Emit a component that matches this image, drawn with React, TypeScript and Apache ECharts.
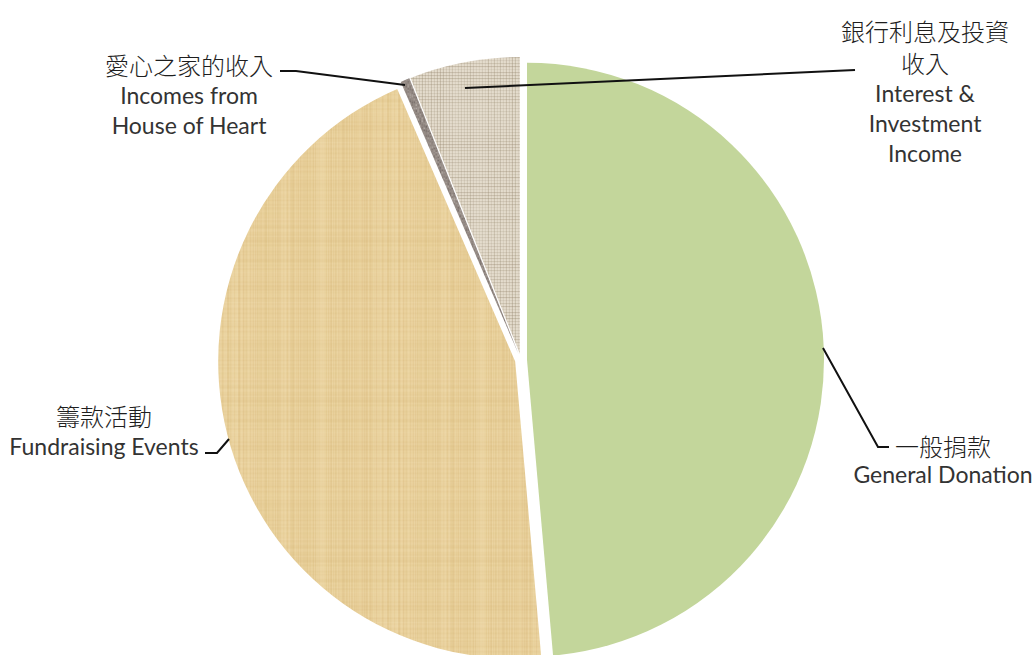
import React, { useEffect, useRef } from 'react';
import * as echarts from 'echarts';

// ---- data ----
const categories = ['一般捐款', '籌款活動', '愛心之家的收入', '銀行利息及投資收入'];
const zhLabels = ['一般捐款', '籌款活動', '愛心之家的收入', '銀行利息及投資\n收入'];
const enLabels = ['General Donation', 'Fundraising Events', 'Incomes from\nHouse of Heart', 'Interest &\nInvestment\nIncome'];
const values = [48.6, 44.9, 0.5, 6.0];

// ---- label layout (style, not data) ----
const labelPos = [
  { x: 943, top: 430, zhLH: 30, enLH: 28 },
  { x: 104, top: 399, zhLH: 32, enLH: 30 },
  { x: 189, top: 48, zhLH: 32, enLH: 30 },
  { x: 925, top: 14, zhLH: 32, enLH: 30 },
];
const guideLines = [
  [[823, 348], [878, 447], [889, 447]],
  [[205, 453], [217, 453], [229, 439]],
  [[280, 71], [296, 71], [405, 85]],
  [[465, 88], [855, 70]],
];

function hash(n: number) {
  const s = Math.sin(n * 127.1 + 311.7) * 43758.5453;
  return s - Math.floor(s);
}

function makePapyrus(): HTMLCanvasElement {
  const S = 160;
  const c = document.createElement('canvas');
  c.width = S; c.height = S;
  const g = c.getContext('2d')!;
  g.fillStyle = '#e9d09a';
  g.fillRect(0, 0, S, S);
  for (let x = 0; x < S; x++) {
    const a = (hash(x) - 0.5) * 0.3;
    g.fillStyle = a > 0 ? `rgba(255,246,220,${a})` : `rgba(190,150,80,${-a})`;
    g.fillRect(x, 0, 1, S);
  }
  for (let y = 0; y < S; y++) {
    const a = (hash(y + 1000) - 0.5) * 0.2;
    g.fillStyle = a > 0 ? `rgba(255,246,220,${a})` : `rgba(190,150,80,${-a})`;
    g.fillRect(0, y, S, 1);
  }
  return c;
}

function makeBurlap(): HTMLCanvasElement {
  const S = 120;
  const c = document.createElement('canvas');
  c.width = S; c.height = S;
  const g = c.getContext('2d')!;
  g.fillStyle = '#e4dccd';
  g.fillRect(0, 0, S, S);
  for (let x = 0; x < S; x += 3) {
    const a = 0.12 + hash(x + 50) * 0.25;
    g.fillStyle = `rgba(140,125,100,${a})`;
    g.fillRect(x, 0, 1, S);
  }
  for (let y = 0; y < S; y += 3) {
    const a = 0.12 + hash(y + 500) * 0.25;
    g.fillStyle = `rgba(140,125,100,${a})`;
    g.fillRect(0, y, S, 1);
  }
  return c;
}

function makeGranite(): HTMLCanvasElement {
  const S = 40;
  const c = document.createElement('canvas');
  c.width = S; c.height = S;
  const g = c.getContext('2d')!;
  g.fillStyle = '#958b85';
  g.fillRect(0, 0, S, S);
  for (let i = 0; i < S * S; i += 2) {
    const v = hash(i + 3000);
    const x = i % S, y = Math.floor(i / S);
    g.fillStyle = v > 0.5 ? `rgba(230,225,220,${(v - 0.5)})` : `rgba(60,50,50,${(0.5 - v)})`;
    g.fillRect(x, y, 1, 1);
  }
  return c;
}

export default function App() {
  const ref = useRef<HTMLDivElement>(null);
  useEffect(() => {
    if (!ref.current) return;
    const chart = echarts.init(ref.current, null, { renderer: 'svg' });
    const colors: any[] = [
      '#c3d69b',
      { image: makePapyrus(), repeat: 'repeat' },
      { image: makeGranite(), repeat: 'repeat' },
      { image: makeBurlap(), repeat: 'repeat' },
    ];
    const graphics: any[] = [];
    categories.forEach((_, i) => {
      const p = labelPos[i];
      const text = zhLabels[i].split('\n').map((t) => `{zh|${t}}`)
        .concat(enLabels[i].split('\n').map((t) => `{en|${t}}`))
        .join('\n');
      graphics.push({
        type: 'text',
        x: p.x,
        y: p.top,
        z: 100,
        silent: true,
        style: {
          text,
          align: 'center',
          verticalAlign: 'top',
          rich: {
            zh: {
              fill: '#1e1e1e',
              fontSize: 24,
              fontWeight: 300,
              fontFamily: '"Noto Sans CJK TC", sans-serif',
              lineHeight: p.zhLH,
              align: 'center',
            },
            en: {
              fill: '#333333',
              fontSize: 23,
              fontFamily: 'Lato, "Open Sans", sans-serif',
              lineHeight: p.enLH,
              align: 'center',
            },
          },
        },
      });
      graphics.push({
        type: 'polyline',
        z: 100,
        silent: true,
        shape: { points: guideLines[i] },
        style: { stroke: '#111', lineWidth: 2, fill: 'none' },
      });
    });
    chart.setOption({
      animation: false,
      backgroundColor: '#ffffff',
      series: [
        {
          type: 'pie',
          center: [521, 360],
          radius: [0, 297],
          startAngle: 90,
          clockwise: true,
          selectedMode: 'multiple',
          selectedOffset: 6,
          silent: true,
          z: 2,
          label: { show: false },
          labelLine: { show: false },
          emphasis: { disabled: true },
          data: categories.map((name, i) => ({
            name,
            value: values[i],
            selected: true,
            itemStyle: { color: colors[i] },
          })),
        },
      ],
      graphic: graphics,
    });
    return () => chart.dispose();
  }, []);
  return (
    <div
      ref={ref}
      style={{ position: 'absolute', left: 0, top: 0, width: 1036, height: 655 }}
    />
  );
}
